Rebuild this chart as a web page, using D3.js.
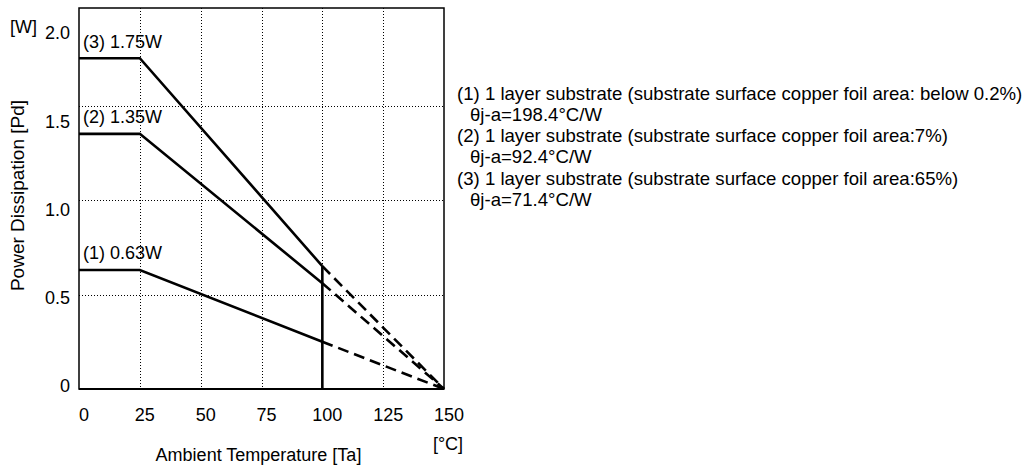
<!DOCTYPE html>
<html>
<head>
<meta charset="utf-8">
<script src="https://cdn.jsdelivr.net/npm/d3@7"></script>
<style>
  html, body { margin: 0; padding: 0; background: #fff; overflow: hidden; }
  svg { display: block; }
  text { font-family: "Liberation Sans", Arial, sans-serif; font-size: 18px; fill: #000; }
</style>
</head>
<body>
<div id="chart"></div>
<script>
// Chart data
var xTicks = [0, 25, 50, 75, 100, 125, 150];
var yTicks = [0, 0.5, 1.0, 1.5, 2.0];
var yTickLabels = ['0', '0.5', '1.0', '1.5', '2.0'];
var gridX = [25, 50, 75, 100, 125];
var gridY = [0.5, 1.0, 1.5];

var curveLabels = ['(1) 0.63W', '(2) 1.35W', '(3) 1.75W'];
var ratedPower = [0.63, 1.35, 1.75];
var solidTemps = [0, 25, 100];
var solidPower = [
  [0.63, 0.63, 0.25],
  [1.35, 1.35, 0.56],
  [1.75, 1.75, 0.65]
];
var dashTemps = [100, 150];
var dashPower = [
  [0.25, 0],
  [0.56, 0],
  [0.65, 0]
];
var cutoffTemp = 100;
var cutoffPower = [0, 0.65];

var notes = [
  '(1) 1 layer substrate (substrate surface copper foil area: below 0.2%)',
  'θj-a=198.4°C/W',
  '(2) 1 layer substrate (substrate surface copper foil area:7%)',
  'θj-a=92.4°C/W',
  '(3) 1 layer substrate (substrate surface copper foil area:65%)',
  'θj-a=71.4°C/W'
];

// Layout
var width = 1032;
var height = 466;
var margin = { top: 8, right: 588, bottom: 77, left: 79 };
var innerWidth = width - margin.left - margin.right;
var innerHeight = height - margin.top - margin.bottom;

var x = d3.scaleLinear()
          .domain([0, 150])
          .range([0, innerWidth]);
var y = d3.scaleLinear()
          .domain([0, 2])
          .range([innerHeight, 3]);
// tick labels sit a little inside the gridlines, as in the datasheet
var yLabel = d3.scaleLinear()
               .domain([0, 2])
               .range([innerHeight - 3, 25]);

var svg = d3.select('#chart')
            .append('svg')
            .attr('width', width)
            .attr('height', height);

var g = svg.append('g')
           .attr('transform', 'translate(' + margin.left + ',' + margin.top + ')');

// Dotted grid
g.selectAll('.grid-x')
 .data(gridX)
 .enter()
 .append('line')
 .attr('x1', function (d) { return Math.round(x(d)) + 0.5; })
 .attr('x2', function (d) { return Math.round(x(d)) + 0.5; })
 .attr('y1', 0)
 .attr('y2', innerHeight)
 .attr('stroke', '#000')
 .attr('stroke-width', 1)
 .attr('stroke-dasharray', '1,2');

g.selectAll('.grid-y')
 .data(gridY)
 .enter()
 .append('line')
 .attr('x1', 0)
 .attr('x2', innerWidth)
 .attr('y1', function (d) { return Math.round(y(d)) + 0.5; })
 .attr('y2', function (d) { return Math.round(y(d)) + 0.5; })
 .attr('stroke', '#000')
 .attr('stroke-width', 1)
 .attr('stroke-dasharray', '1,2');

// Frame
g.append('rect')
 .attr('x', 0)
 .attr('y', 0)
 .attr('width', innerWidth)
 .attr('height', innerHeight)
 .attr('fill', 'none')
 .attr('stroke', '#000')
 .attr('stroke-width', 1.5);
g.append('line')
 .attr('x1', 0)
 .attr('x2', innerWidth)
 .attr('y1', y(0))
 .attr('y2', y(0))
 .attr('stroke', '#000')
 .attr('stroke-width', 2);

// Derating curves
var line = d3.line()
             .x(function (d) { return x(d[0]); })
             .y(function (d) { return y(d[1]); });

solidPower.forEach(function (p) {
  g.append('path')
   .attr('d', line(solidTemps.map(function (t, i) { return [t, p[i]]; })))
   .attr('fill', 'none')
   .attr('stroke', '#000')
   .attr('stroke-width', 2.6);
});

dashPower.forEach(function (p) {
  g.append('path')
   .attr('d', line(dashTemps.map(function (t, i) { return [t, p[i]]; })))
   .attr('fill', 'none')
   .attr('stroke', '#000')
   .attr('stroke-width', 2.6)
   .attr('stroke-dasharray', '11,6');
});

g.append('path')
 .attr('d', line(cutoffPower.map(function (p) { return [cutoffTemp, p]; })))
 .attr('fill', 'none')
 .attr('stroke', '#000')
 .attr('stroke-width', 2.6);

// Curve labels
g.selectAll('.curve-label')
 .data(curveLabels)
 .enter()
 .append('text')
 .attr('x', x(0) + 4)
 .attr('y', function (d, i) { return y(ratedPower[i]) - 17; })
 .attr('dy', '0.35em')
 .text(function (d) { return d; });

// Axis labels
g.selectAll('.x-tick')
 .data(xTicks)
 .enter()
 .append('text')
 .attr('x', function (d) { return x(d) + 5; })
 .attr('y', innerHeight + 26)
 .attr('dy', '0.35em')
 .attr('text-anchor', 'middle')
 .text(function (d) { return d; });

g.selectAll('.y-tick')
 .data(yTicks)
 .enter()
 .append('text')
 .attr('x', -9)
 .attr('y', function (d) { return yLabel(d); })
 .attr('dy', '0.35em')
 .attr('text-anchor', 'end')
 .text(function (d, i) { return yTickLabels[i]; });

g.append('text')
 .attr('x', -42)
 .attr('y', yLabel(2) - 6)
 .attr('dy', '0.35em')
 .attr('text-anchor', 'end')
 .text('[W]');

g.append('text')
 .attr('x', innerWidth + 4)
 .attr('y', innerHeight + 55)
 .attr('dy', '0.35em')
 .attr('text-anchor', 'middle')
 .text('[°C]');

g.append('text')
 .attr('x', innerWidth / 2 - 3)
 .attr('y', innerHeight + 66)
 .attr('dy', '0.35em')
 .attr('text-anchor', 'middle')
 .text('Ambient Temperature [Ta]');

g.append('text')
 .attr('transform', 'translate(' + (-62) + ',' + (innerHeight / 2 - 3) + ') rotate(-90)')
 .attr('dy', '0.35em')
 .attr('text-anchor', 'middle')
 .style('font-size', '19px')
 .text('Power Dissipation [Pd]');

// Notes on the right
svg.append('g')
   .attr('transform', 'translate(457,93)')
   .selectAll('text')
   .data(notes)
   .enter()
   .append('text')
   .attr('x', function (d, i) { return i % 2 ? 13 : 0; })
   .attr('y', function (d, i) { return i * 21.3; })
   .attr('dy', '0.35em')
   .style('font-size', '18.6px')
   .text(function (d) { return d; });
</script>
</body>
</html>
